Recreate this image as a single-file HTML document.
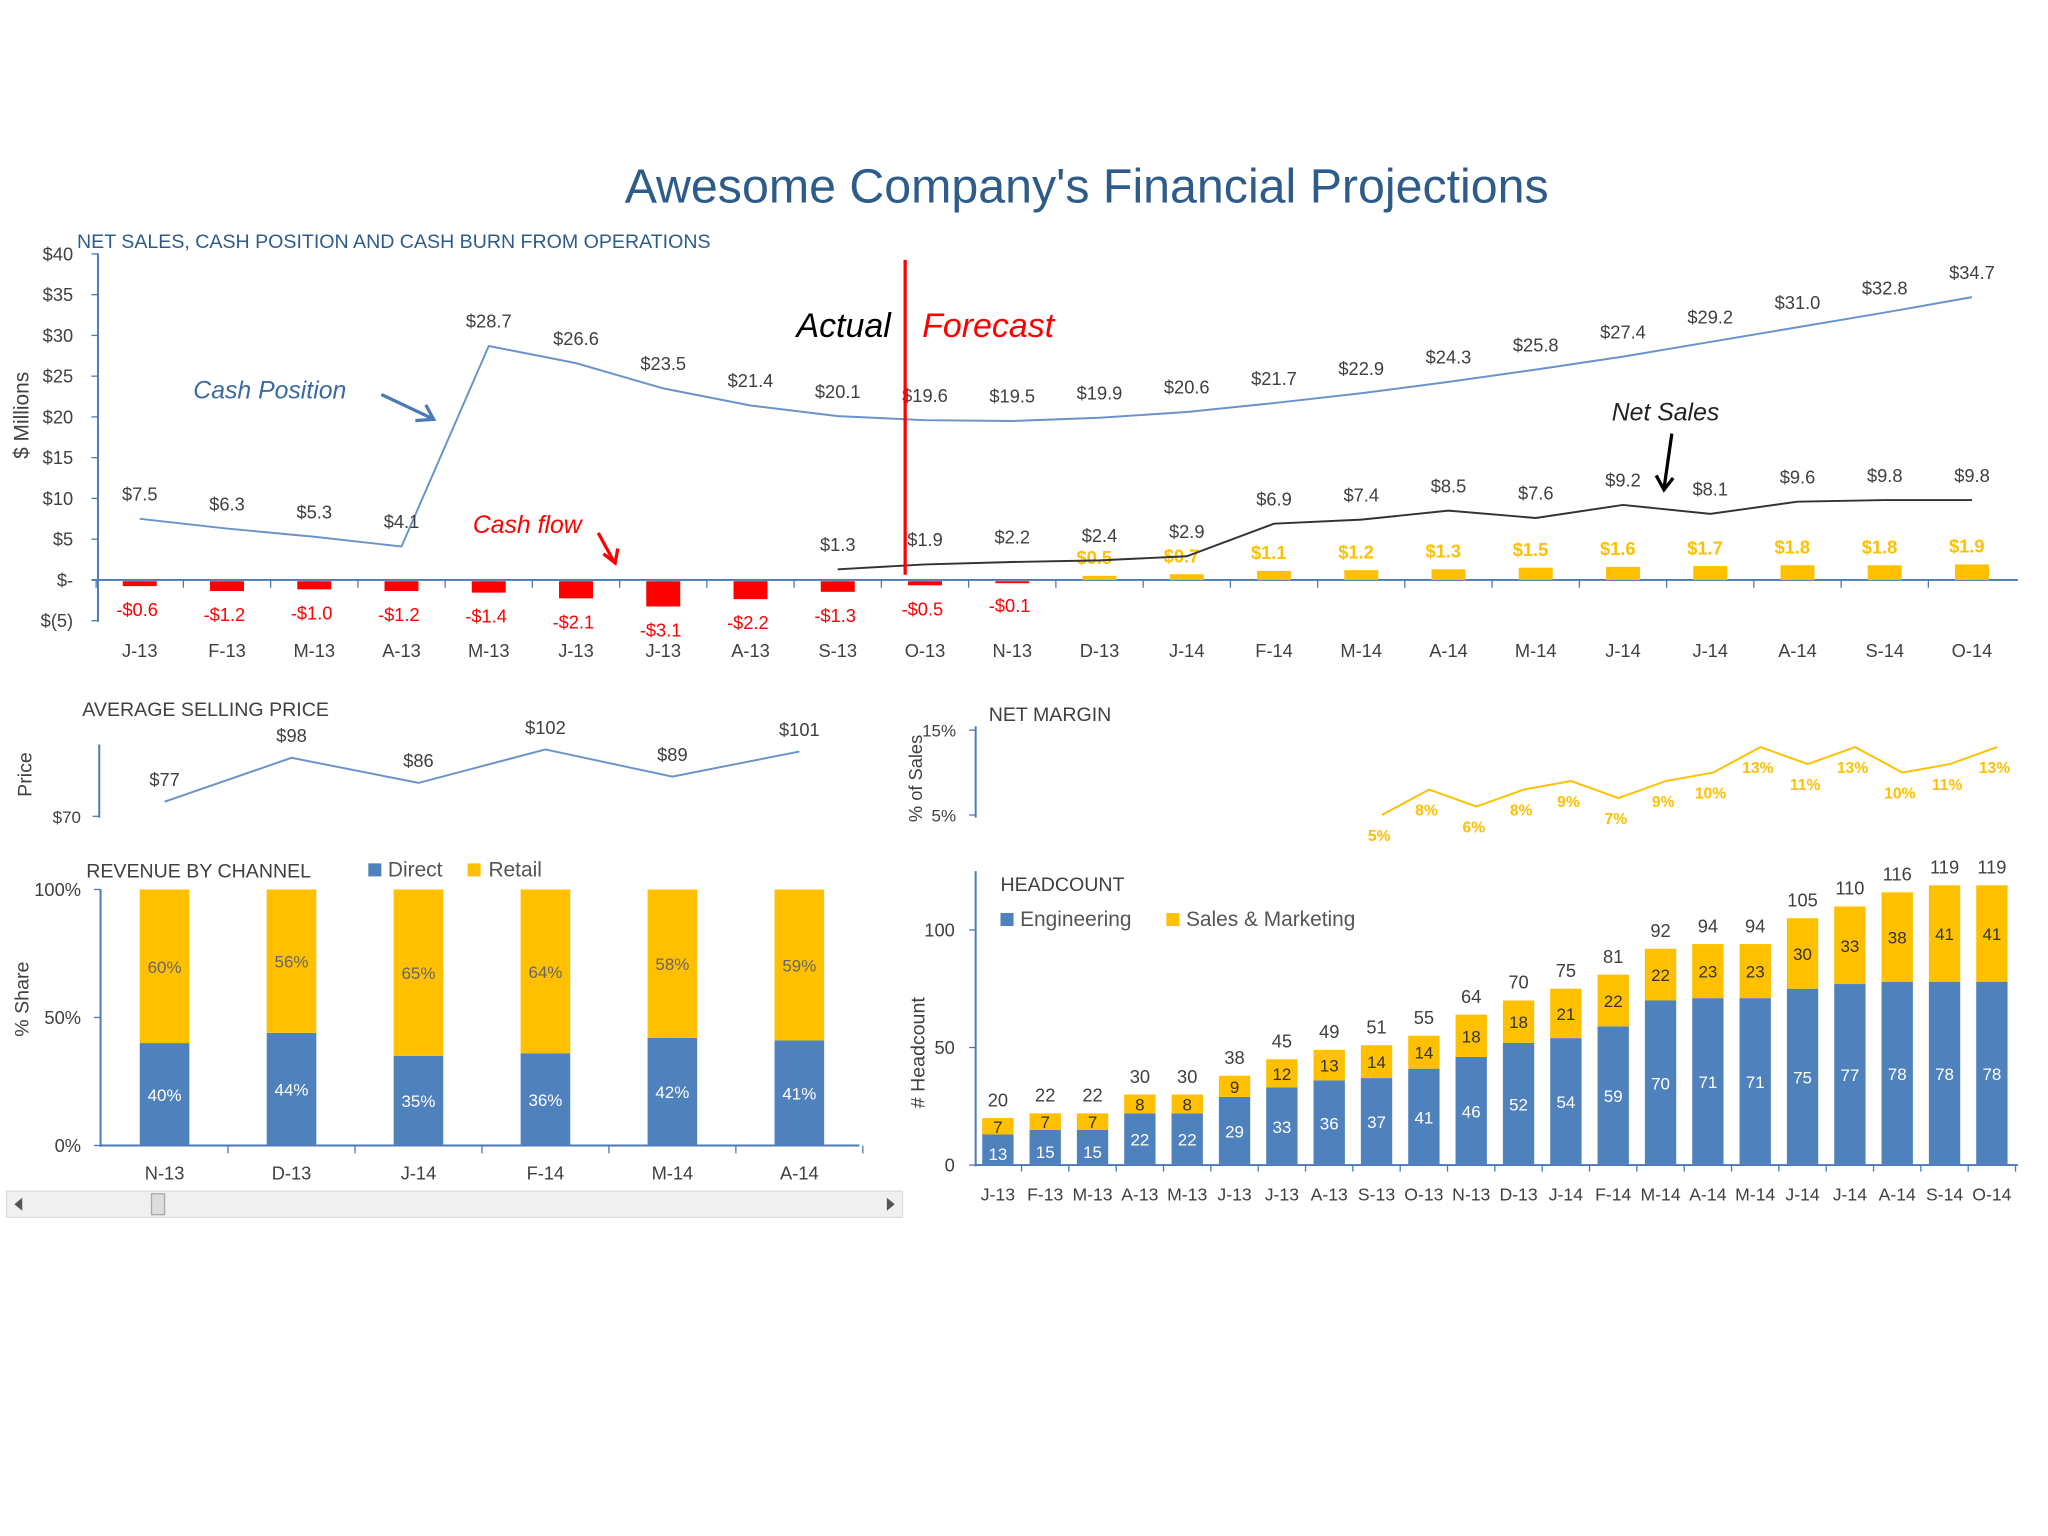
<!DOCTYPE html>
<html><head><meta charset="utf-8"><style>
html,body{margin:0;padding:0;background:#fff;}
svg{display:block;font-family:"Liberation Sans",sans-serif;}
</style></head><body>
<svg id="s" width="2048" height="1536" viewBox="0 0 1568 1176" xmlns="http://www.w3.org/2000/svg">
<rect width="1568" height="1176" fill="#fff"/>
<text x="832" y="155" text-anchor="middle" font-size="37" fill="#2e5c8a">Awesome Company's Financial Projections</text>
<g id="g"></g>
</svg>
<script>
const months=["J-13","F-13","M-13","A-13","M-13","J-13","J-13","A-13","S-13","O-13","N-13","D-13","J-14","F-14","M-14","A-14","M-14","J-14","J-14","A-14","S-14","O-14"];
const cashPosition=[7.5,6.3,5.3,4.1,28.7,26.6,23.5,21.4,20.1,19.6,19.5,19.9,20.6,21.7,22.9,24.3,25.8,27.4,29.2,31.0,32.8,34.7];
const cashFlow=[-0.6,-1.2,-1.0,-1.2,-1.4,-2.1,-3.1,-2.2,-1.3,-0.5,-0.1,0.5,0.7,1.1,1.2,1.3,1.5,1.6,1.7,1.8,1.8,1.9];
const netSales=[1.3,1.9,2.2,2.4,2.9,6.9,7.4,8.5,7.6,9.2,8.1,9.6,9.8,9.8];
const netSalesStart=8;
const mainTicks=[40,35,30,25,20,15,10,5,0,-5];
const mainTickLabels=["$40","$35","$30","$25","$20","$15","$10","$5","$-","$(5)"];
const aspCats=["N-13","D-13","J-14","F-14","M-14","A-14"];
const aspValues=[77,98,86,102,89,101];
const marginValues=[5,8,6,8,9,7,9,10,13,11,13,10,11,13];
const marginStart=8;
const directShare=[40,44,35,36,42,41];
const retailShare=[60,56,65,64,58,59];
const engHC=[13,15,15,22,22,29,33,36,37,41,46,52,54,59,70,71,71,75,77,78,78,78];
const salesHC=[7,7,7,8,8,9,12,13,14,14,18,18,21,22,22,23,23,30,33,38,41,41];

const NS="http://www.w3.org/2000/svg";
const G=document.getElementById('g');
function el(tag,attrs,txt){const e=document.createElementNS(NS,tag);for(const k in attrs)e.setAttribute(k,attrs[k]);if(txt!==undefined)e.textContent=txt;G.appendChild(e);return e;}
const BLUE="#4f81bd",GOLD="#ffc000",AX="#4a7ab5",TXT="#404040";

// ===== main chart =====
const mx=i=>107+i*66.8, my=v=>444-v*6.24;
let e;
e=el('text',{x:59,y:190,'font-size':15,fill:'#2e5c8a'},'NET SALES, CASH POSITION AND CASH BURN FROM OPERATIONS');

e=el('line',{x1:75,y1:194,x2:75,y2:476,stroke:AX,'stroke-width':1.5});

e=el('line',{x1:70,y1:444,x2:1545,y2:444,stroke:AX,'stroke-width':1.5});

mainTicks.forEach((t,i)=>{
 el('line',{x1:70,y1:my(t),x2:75,y2:my(t),stroke:AX});
 e=el('text',{x:56,y:my(t)+5,'font-size':14,fill:TXT,'text-anchor':'end'},mainTickLabels[i]);
 
});
e=el('text',{x:0,y:0,'font-size':16,fill:TXT,'text-anchor':'middle',transform:'translate(22,318) rotate(-90)'},'$ Millions');

months.forEach((m,i)=>{
 el('line',{x1:mx(i)-33.4,y1:444,x2:mx(i)-33.4,y2:450,stroke:AX});
 e=el('text',{x:mx(i),y:503,'font-size':14,fill:TXT,'text-anchor':'middle'},m);
 
});
cashFlow.forEach((v,i)=>{
 const y0=my(0),y1=my(v);
 e=el('rect',{x:mx(i)-13,y:Math.min(y0,y1)+(v<0?1:0),width:26,height:Math.max(Math.abs(y1-y0),1.5),fill:v<0?'#ff0000':GOLD});
 
 const lbl=(v<0?'-$':'$')+Math.abs(v).toFixed(1);
 e=el('text',{x:mx(i)+(v<0?-2:-4),y:v<0?y1+24:y1-9,'font-size':14,fill:v<0?'#ff0000':GOLD,'text-anchor':'middle','font-weight':v<0?'normal':'bold'},lbl);
 
});
let d=cashPosition.map((v,i)=>(i?'L':'M')+mx(i)+','+my(v)).join(' ');
e=el('path',{d:d,fill:'none',stroke:'#6a93c9','stroke-width':1.5});

cashPosition.forEach((v,i)=>{
 e=el('text',{x:mx(i),y:my(v)-14,'font-size':14,fill:TXT,'text-anchor':'middle'},'$'+v.toFixed(1));
 
});
d=netSales.map((v,i)=>(i?'L':'M')+mx(i+netSalesStart)+','+my(v)).join(' ');
e=el('path',{d:d,fill:'none',stroke:'#333','stroke-width':1.5});

netSales.forEach((v,i)=>{
 e=el('text',{x:mx(i+netSalesStart),y:my(v)-14,'font-size':14,fill:TXT,'text-anchor':'middle'},'$'+v.toFixed(1));
 
});
e=el('line',{x1:693,y1:199,x2:693,y2:440,stroke:'#ff0000','stroke-width':2.5});

e=el('text',{x:682,y:258,'font-size':26,fill:'#000','text-anchor':'end','font-style':'italic'},'Actual');

e=el('text',{x:706,y:258,'font-size':26,fill:'#ff0000','font-style':'italic'},'Forecast');

e=el('text',{x:148,y:305,'font-size':19,fill:'#3a6aa0','font-style':'italic'},'Cash Position');

el('path',{d:'M292,302 L330,320 M318,322 L332,321 L326,310',stroke:'#4a7ab5','stroke-width':2.5,fill:'none'});
e=el('text',{x:362,y:408,'font-size':19,fill:'#ff0000','font-style':'italic'},'Cash flow');

el('path',{d:'M458,408 L470,430 M462,424 L471,431 L473,420',stroke:'#ff0000','stroke-width':2.5,fill:'none'});
e=el('text',{x:1234,y:322,'font-size':19,fill:'#222','font-style':'italic'},'Net Sales');

el('path',{d:'M1280,332 L1274,374 M1268,364 L1274,375 L1281,366',stroke:'#000','stroke-width':2.5,fill:'none'});

// ===== ASP =====
const ax=i=>126+i*97.2;
const ay=v=>625-(v-70)*1.6;
e=el('text',{x:63,y:548,'font-size':15,fill:TXT},'AVERAGE SELLING PRICE');

el('line',{x1:76,y1:570,x2:76,y2:626,stroke:AX,'stroke-width':1.5});
el('line',{x1:71,y1:625,x2:76,y2:625,stroke:AX});
e=el('text',{x:62,y:630,'font-size':13,fill:TXT,'text-anchor':'end'},'$70');

e=el('text',{x:0,y:0,'font-size':15,fill:TXT,'text-anchor':'middle',transform:'translate(24,593) rotate(-90)'},'Price');

e=el('path',{d:aspValues.map((v,i)=>(i?'L':'M')+ax(i)+','+ay(v)).join(' '),fill:'none',stroke:'#6a93c9','stroke-width':1.5});

aspValues.forEach((v,i)=>{
 e=el('text',{x:ax(i),y:ay(v)-12,'font-size':14,fill:TXT,'text-anchor':'middle'},'$'+v);
 
});

// ===== headcount x positions =====
const hx=i=>764+i*36.24;

// ===== Net margin =====
const nmy=v=>624-(v-5)*6.5;
e=el('text',{x:757,y:552,'font-size':15,fill:TXT},'NET MARGIN');

el('line',{x1:747,y1:556,x2:747,y2:626,stroke:AX,'stroke-width':1.5});
[[15,'15%'],[5,'5%']].forEach(t=>{
 el('line',{x1:742,y1:nmy(t[0]),x2:747,y2:nmy(t[0]),stroke:AX});
 e=el('text',{x:732,y:nmy(t[0])+5,'font-size':13,fill:TXT,'text-anchor':'end'},t[1]);
 
});
e=el('text',{x:0,y:0,'font-size':14,fill:TXT,'text-anchor':'middle',transform:'translate(706,596) rotate(-90)'},'% of Sales');

e=el('path',{d:marginValues.map((v,i)=>(i?'L':'M')+(hx(i+marginStart)+4)+','+nmy(v)).join(' '),fill:'none',stroke:GOLD,'stroke-width':1.5});

marginValues.forEach((v,i)=>{
 e=el('text',{x:hx(i+marginStart)+2,y:nmy(v)+20,'font-size':12,fill:GOLD,'text-anchor':'middle','font-weight':'bold'},v+'%');
 
});

// ===== Revenue by channel =====
const ry=v=>877-v*1.96;
e=el('text',{x:66,y:672,'font-size':15,fill:TXT},'REVENUE BY CHANNEL');

el('rect',{x:282,y:661,width:10,height:10,fill:BLUE});
e=el('text',{x:297,y:671,'font-size':16,fill:'#555'},'Direct');

el('rect',{x:358,y:661,width:10,height:10,fill:GOLD});
e=el('text',{x:374,y:671,'font-size':16,fill:'#555'},'Retail');

el('line',{x1:77,y1:681,x2:77,y2:878,stroke:AX,'stroke-width':1.5});
el('line',{x1:77,y1:877,x2:658,y2:877,stroke:AX,'stroke-width':1.5});
[[100,'100%'],[50,'50%'],[0,'0%']].forEach(t=>{
 el('line',{x1:72,y1:ry(t[0]),x2:77,y2:ry(t[0]),stroke:AX});
 e=el('text',{x:62,y:ry(t[0])+5,'font-size':14,fill:TXT,'text-anchor':'end'},t[1]);
 
});
e=el('text',{x:0,y:0,'font-size':15,fill:TXT,'text-anchor':'middle',transform:'translate(22,765) rotate(-90)'},'% Share');

aspCats.forEach((c,i)=>{
 el('line',{x1:ax(i)+48.6,y1:877,x2:ax(i)+48.6,y2:883,stroke:AX});
 e=el('text',{x:ax(i),y:903,'font-size':14,fill:TXT,'text-anchor':'middle'},c);
 
 e=el('rect',{x:ax(i)-19,y:ry(directShare[i]),width:38,height:directShare[i]*1.96,fill:BLUE});
 
 e=el('rect',{x:ax(i)-19,y:ry(directShare[i]+retailShare[i]),width:38,height:retailShare[i]*1.96,fill:GOLD});
 
 e=el('text',{x:ax(i),y:ry(directShare[i]/2)+5,'font-size':13,fill:'#fff','text-anchor':'middle'},directShare[i]+'%');
 
 e=el('text',{x:ax(i),y:ry(directShare[i]+retailShare[i]/2)+5,'font-size':13,fill:'#666','text-anchor':'middle'},retailShare[i]+'%');
 
});
// scrollbar
e=el('rect',{x:5,y:912,width:686,height:20,fill:'#f0f0f0',stroke:'#ddd'});

el('path',{d:'M17,917 L11,922 L17,927 Z',fill:'#555'});
el('path',{d:'M679,917 L685,922 L679,927 Z',fill:'#555'});
e=el('rect',{x:116,y:914,width:10,height:16,fill:'#ddd',stroke:'#aaa'});


// ===== Headcount =====
const hy=v=>892-v*1.8;
e=el('text',{x:766,y:682,'font-size':15,fill:TXT},'HEADCOUNT');

el('rect',{x:766,y:699,width:10,height:10,fill:BLUE});
e=el('text',{x:781,y:709,'font-size':16,fill:'#555'},'Engineering');

el('rect',{x:893,y:699,width:10,height:10,fill:GOLD});
e=el('text',{x:908,y:709,'font-size':16,fill:'#555'},'Sales & Marketing');

el('line',{x1:747,y1:667,x2:747,y2:893,stroke:AX,'stroke-width':1.5});
el('line',{x1:747,y1:892,x2:1545,y2:892,stroke:AX,'stroke-width':1.5});
[[100,'100'],[50,'50'],[0,'0']].forEach(t=>{
 el('line',{x1:742,y1:hy(t[0]),x2:747,y2:hy(t[0]),stroke:AX});
 e=el('text',{x:731,y:hy(t[0])+5,'font-size':14,fill:TXT,'text-anchor':'end'},t[1]);
 
});
e=el('text',{x:0,y:0,'font-size':15,fill:TXT,'text-anchor':'middle',transform:'translate(708,806) rotate(-90)'},'# Headcount');

months.forEach((m,i)=>{
 const x=hx(i),eg=engHC[i],sl=salesHC[i];
 el('line',{x1:x+18.1,y1:892,x2:x+18.1,y2:897,stroke:AX});
 e=el('text',{x:x,y:919,'font-size':13.5,fill:TXT,'text-anchor':'middle'},m);
 
 e=el('rect',{x:x-12,y:hy(eg),width:24,height:eg*1.8,fill:BLUE});
 
 e=el('rect',{x:x-12,y:hy(eg+sl),width:24,height:sl*1.8,fill:GOLD});
 
 e=el('text',{x:x,y:hy(eg/2)+5+(eg<20?3:0),'font-size':13,fill:'#fff','text-anchor':'middle'},eg);
 
 e=el('text',{x:x,y:hy(eg+sl/2)+5,'font-size':13,fill:'#333','text-anchor':'middle'},sl);
 
 e=el('text',{x:x,y:hy(eg+sl)-9,'font-size':14,fill:TXT,'text-anchor':'middle'},eg+sl);
 
});
</script>
</body></html>
